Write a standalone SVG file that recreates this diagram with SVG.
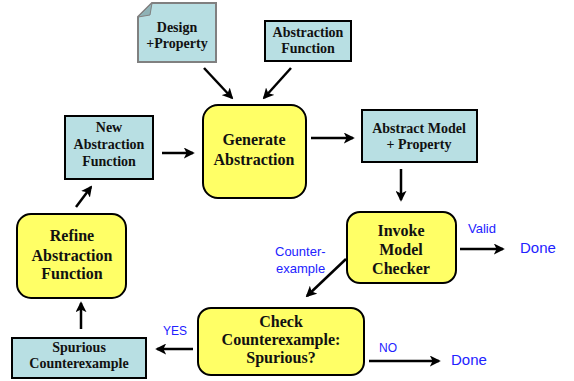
<svg xmlns="http://www.w3.org/2000/svg" width="574" height="381" viewBox="0 0 574 381">
<style>
.y{fill:#ffff66;stroke:#000;stroke-width:2}
.b{fill:#b8dfe3;stroke:#000;stroke-width:2}
.t{font-family:"Liberation Serif","Times New Roman",serif;font-weight:bold;fill:#111;text-anchor:middle}
.t16{font-size:16px}
.t14{font-size:14px}
.l{font-family:"Liberation Sans",Arial,sans-serif;fill:#2222ff}
.c{stroke:#000;stroke-width:2.5;fill:none;marker-end:url(#ah)}
</style>
<defs>
<marker id="ah" viewBox="0 0 12 12" refX="10" refY="6" markerWidth="4.4" markerHeight="4.4" orient="auto" markerUnits="strokeWidth">
<path d="M0,0 L12,6 L0,12 L3,6 Z" fill="#000"/>
</marker>
</defs>
<rect width="574" height="381" fill="#fff"/>
<g id="design">
<path d="M152,3 L216,3 L216,62 L138,62 L138,17 Z" fill="#b8dfe3" stroke="#808080" stroke-width="2"/>
<path d="M138,17 L152,3 L150,15 Z" fill="#8fb2b6" stroke="#808080" stroke-width="1"/>
<text class="t t14" x="177" y="32">Design</text>
<text class="t t14" x="177" y="48">+Property</text>
</g>
<g id="absfunc">
<rect class="b" x="265" y="21" width="86" height="40"/>
<text class="t t14" x="308" y="37">Abstraction</text>
<text class="t t14" x="308" y="53">Function</text>
</g>
<g id="newabs">
<rect class="b" x="65" y="116" width="88" height="63"/>
<text class="t t14" x="109" y="132">New</text>
<text class="t t14" x="109" y="149">Abstraction</text>
<text class="t t14" x="109" y="166">Function</text>
</g>
<g id="generate">
<rect class="y" x="203" y="105" width="103" height="93" rx="15"/>
<text class="t t16" x="254" y="145">Generate</text>
<text class="t t16" x="254" y="165">Abstraction</text>
</g>
<g id="absmodel">
<rect class="b" x="362" y="110" width="115" height="52"/>
<text class="t t14" x="419" y="133">Abstract Model</text>
<text class="t t14" x="419" y="149">+ Property</text>
</g>
<g id="invoke">
<rect class="y" x="347" y="212" width="109" height="71" rx="13"/>
<text class="t t16" x="401" y="236">Invoke</text>
<text class="t t16" x="401" y="255">Model</text>
<text class="t t16" x="401" y="274">Checker</text>
</g>
<g id="refine">
<rect class="y" x="17" y="214" width="109" height="84" rx="14"/>
<text class="t t16" x="72" y="241">Refine</text>
<text class="t t16" x="72" y="261">Abstraction</text>
<text class="t t16" x="72" y="279">Function</text>
</g>
<g id="spurious">
<rect class="b" x="12" y="338" width="134" height="40"/>
<text class="t t14" x="79" y="352">Spurious</text>
<text class="t t14" x="79" y="368">Counterexample</text>
</g>
<g id="check">
<rect class="y" x="198" y="308" width="166" height="67" rx="13"/>
<text class="t t16" x="281" y="327">Check</text>
<text class="t t16" x="281" y="345">Counterexample:</text>
<text class="t t16" x="281" y="363">Spurious?</text>
</g>
<g id="labels">
<text class="l" x="468" y="233" font-size="13">Valid</text>
<text class="l" x="520" y="253" font-size="15">Done</text>
<text class="l" x="275" y="256" font-size="13">Counter-</text>
<text class="l" x="276" y="273" font-size="13">example</text>
<text class="l" x="163" y="335" font-size="12">YES</text>
<text class="l" x="379" y="352" font-size="12">NO</text>
<text class="l" x="451" y="365" font-size="15">Done</text>
</g>
<g id="connectors">
<line class="c" x1="204" y1="68" x2="232" y2="98"/>
<line class="c" x1="291" y1="68" x2="264" y2="98"/>
<line class="c" x1="162" y1="153" x2="193" y2="153"/>
<line class="c" x1="311" y1="138" x2="353" y2="138"/>
<line class="c" x1="401" y1="169" x2="401" y2="200"/>
<line class="c" x1="460" y1="249" x2="503" y2="249"/>
<line class="c" x1="346" y1="259" x2="307" y2="296"/>
<line class="c" x1="193" y1="349" x2="157" y2="349"/>
<line class="c" x1="81" y1="329" x2="81" y2="303"/>
<line class="c" x1="76" y1="207" x2="91" y2="187"/>
<line class="c" x1="369" y1="361" x2="439" y2="361"/>
</g>
</svg>
